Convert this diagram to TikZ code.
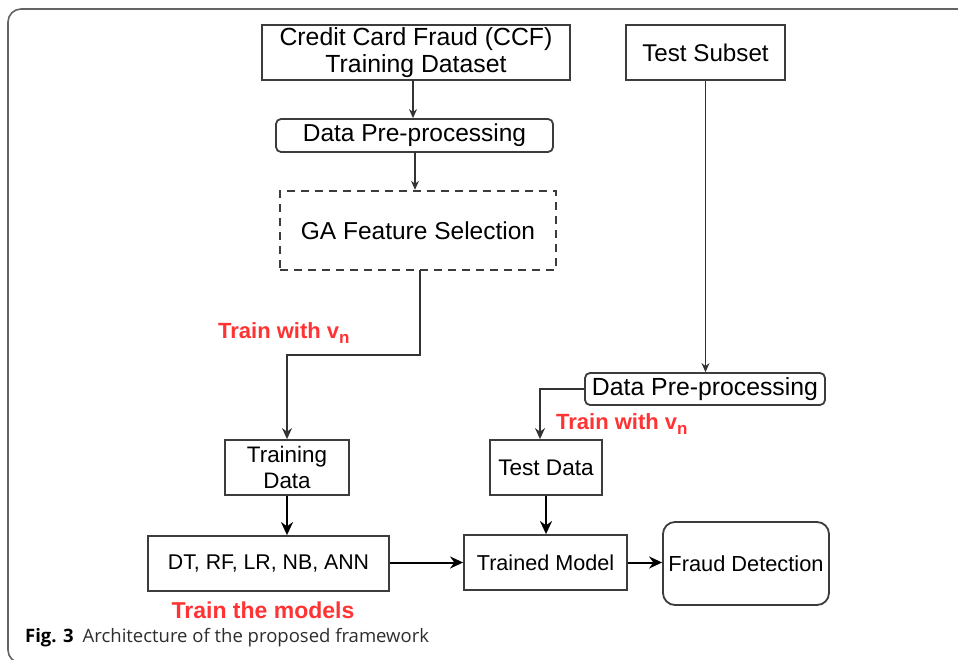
\documentclass[tikz,border=0pt]{standalone}
\usepackage{fontspec}
\setmainfont{Liberation Sans}
\newfontfamily\capfont{Open Sans}
\usetikzlibrary{arrows.meta,calc}
\definecolor{redlab}{RGB}{255,51,51}
\definecolor{boxline}{RGB}{60,60,60}
\definecolor{framegray}{RGB}{100,100,100}
\definecolor{captext}{RGB}{45,45,45}
\newcommand{\vsub}{v\raisebox{-5pt}{\fontsize{17}{17}\selectfont n}}
\begin{document}
\begin{tikzpicture}[x=1pt,y=-1pt,
  box/.style={draw=boxline,line width=1.8pt,inner sep=0pt,align=center,text=black},
  rbox/.style={box,rounded corners=5pt},
  thin arrow/.style={draw=black!80,line width=1.1pt,-{Stealth[length=9pt,width=8pt]}},
  thick arrow/.style={draw=black,line width=2pt,-{Stealth[length=13pt,width=12pt]}},
  redtext/.style={text=redlab,font=\fontsize{22}{25}\selectfont\bfseries,inner sep=0pt},
]
\useasboundingbox (0,0) rectangle (958,660);
\begin{scope}
\clip (0,0) rectangle (958,660);
\draw[framegray,line width=1.6pt,rounded corners=13pt] (8,9) rectangle (1000,663);
\end{scope}

% nodes
\node[box,minimum width=308pt,minimum height=55pt,font=\fontsize{24.8}{27}\selectfont] (ccf) at (416,52.5) {Credit Card Fraud (CCF)\\Training Dataset};
\node[rbox,minimum width=277pt,minimum height=33pt,font=\fontsize{24.5}{28}\selectfont] (dp1) at (414.5,135.5) {Data Pre-processing};
\node[box,dashed,dash pattern=on 8pt off 6pt,line width=2.4pt,minimum width=276pt,minimum height=79pt,font=\fontsize{24.5}{28}\selectfont] (ga) at (418,230.5) {GA Feature Selection};
\node[box,minimum width=159pt,minimum height=55pt,font=\fontsize{24.2}{28}\selectfont] (ts) at (705.5,52.5) {Test Subset};
\node[rbox,minimum width=240pt,minimum height=32pt,font=\fontsize{24.8}{28}\selectfont] (dp2) at (705,389) {Data Pre-processing};
\node[box,minimum width=124pt,minimum height=55pt,font=\fontsize{22.4}{26}\selectfont] (trd) at (287,467.5) {Training\\Data};
\node[box,minimum width=112pt,minimum height=55pt,font=\fontsize{22.6}{26}\selectfont] (ted) at (546,467.5) {Test Data};
\node[box,minimum width=241pt,minimum height=55pt,font=\fontsize{21.3}{26}\selectfont] (ml) at (268.5,563.5) {DT, RF, LR, NB, ANN};
\node[box,minimum width=163pt,minimum height=55pt,font=\fontsize{21.6}{26}\selectfont] (tm) at (545.5,562.5) {Trained Model};
\node[box,rounded corners=12pt,minimum width=166pt,minimum height=83pt,font=\fontsize{21.8}{26}\selectfont] (fd) at (746,563.5) {Fraud Detection};

% labels
\node[redtext,anchor=west] (l1) at (218,333) {Train with \vsub};
\node[redtext,anchor=west] (l2) at (556,424) {Train with \vsub};
\node[redtext,font=\fontsize{23}{25}\selectfont\bfseries] (l3) at (263,610) {Train the models};
\node[anchor=west,inner sep=0pt,font=\capfont\fontsize{18.5}{22}\selectfont,text=captext] (cap) at (25,638) {{\bfseries\color{black}Fig. 3}\hspace{9pt}Architecture of the proposed framework};

% connectors
\coordinate (a1) at (413,80);
\draw[thin arrow] (a1) -- (a1 |- dp1.north);
\coordinate (a2) at (415,152);
\draw[thin arrow] (a2) -- (a2 |- ga.north);
\coordinate (g0) at (420,270);
\coordinate (g1) at (420,355);
\draw[thin arrow,line width=1.6pt,-{Stealth[length=11pt,width=10pt]}] (g0) -- (g1) -| (trd.north);
\draw[thin arrow] (ts.south) -- (ts.south |- dp2.north);
\coordinate (t1) at (540,389);
\draw[thin arrow,line width=1.6pt,-{Stealth[length=11pt,width=10pt]}] (dp2.west) -- (t1) -- (t1 |- ted.north);
\draw[thick arrow] (trd.south) -- (trd.south |- ml.north);
\draw[thick arrow] (ted.south) -- (ted.south |- tm.north);
\draw[thick arrow] (ml.east |- tm.west) -- (tm.west);
\draw[thick arrow] (tm.east) -- (fd.west |- tm.east);
\end{tikzpicture}
\end{document}
